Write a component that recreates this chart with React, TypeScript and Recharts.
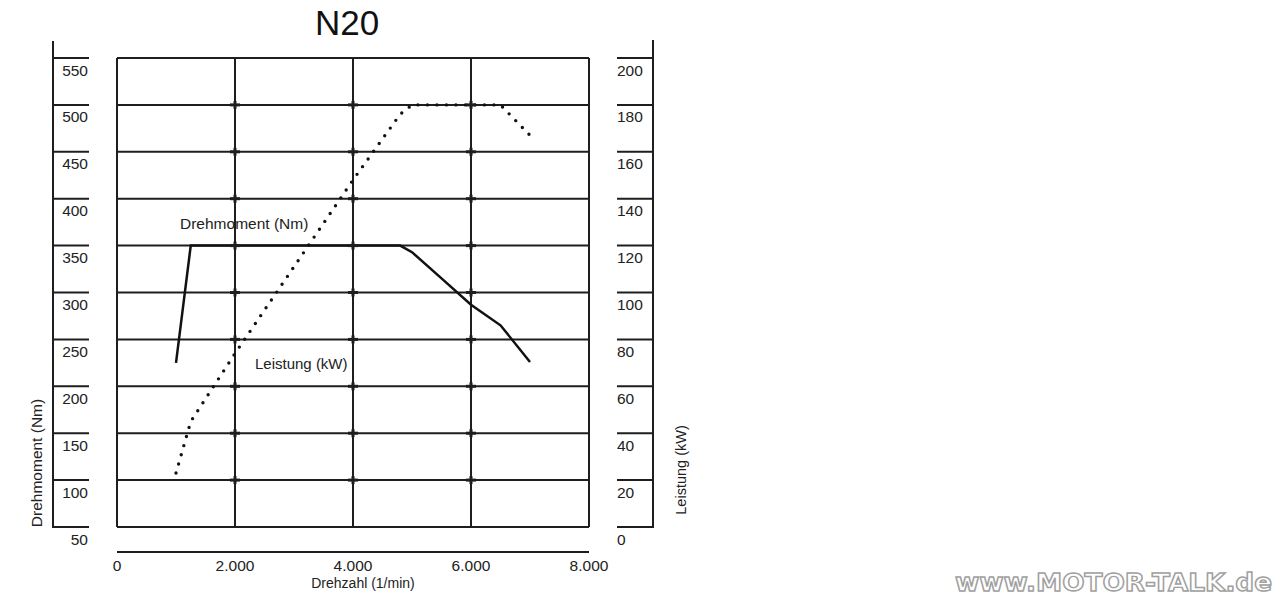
import React from 'react';
import { ComposedChart, Line, Scatter, XAxis, YAxis, CartesianGrid } from 'recharts';

const RPM_TICKS = [0, 2000, 4000, 6000, 8000];
const RPM_LABELS = ['0', '2.000', '4.000', '6.000', '8.000'];
const NM_TICKS = [50, 100, 150, 200, 250, 300, 350, 400, 450, 500, 550];
const KW_TICKS = [0, 20, 40, 60, 80, 100, 120, 140, 160, 180, 200];

// Drehmoment (Nm) over Drehzahl
const torqueRpm = [1000, 1250, 4800, 5000, 5500, 6000, 6500, 7000];
const torqueNm = [225, 350, 350, 343, 315, 287, 265, 226];

// Leistung (kW) over Drehzahl
const powerRpm = [1000, 1250, 2000, 3000, 4000, 4800, 5000, 6500, 7000];
const powerKw = [23, 45, 74, 111, 148, 176, 180, 180, 167];

// small "+" marks where the inner grid lines cross
const crossRpm = [2000, 4000, 6000];
const crossNm = [100, 150, 200, 250, 300, 350, 400, 450, 500];

const FONT = '"Liberation Sans", Arial, sans-serif';
const INK = '#1e1e1e';
const TEXT = '#222';

const torqueData = torqueRpm.map((rpm, i) => ({ rpm, nm: torqueNm[i] }));
const powerData = powerRpm.map((rpm, i) => ({ rpm, kw: powerKw[i] }));
const crossData = crossRpm.flatMap(rpm => crossNm.map(nm => ({ rpm, nm })));

const LeftTick = (props: any) => {
  const { y, payload } = props;
  return (
    <g>
      <line x1={53} x2={89} y1={y} y2={y} stroke={INK} strokeWidth={2} />
      <text x={88} y={y + 12} textAnchor="end" dominantBaseline="central" fontFamily={FONT} fontSize={15.5} fill={TEXT}>
        {payload.value}
      </text>
    </g>
  );
};

const RightTick = (props: any) => {
  const { y, payload } = props;
  return (
    <g>
      <line x1={617} x2={653} y1={y} y2={y} stroke={INK} strokeWidth={2} />
      <text x={617} y={y + 12} textAnchor="start" dominantBaseline="central" fontFamily={FONT} fontSize={15.5} fill={TEXT}>
        {payload.value}
      </text>
    </g>
  );
};

const BottomTick = (props: any) => {
  const { x, payload } = props;
  const label = RPM_LABELS[RPM_TICKS.indexOf(payload.value)];
  return (
    <text x={x} y={565} textAnchor="middle" dominantBaseline="central" fontFamily={FONT} fontSize={15.5} fill={TEXT}>
      {label}
    </text>
  );
};

const Cross = (props: any) => {
  const { cx, cy } = props;
  return (
    <g stroke={INK} strokeWidth={3}>
      <line x1={cx - 5} x2={cx + 5} y1={cy} y2={cy} />
      <line x1={cx} x2={cx} y1={cy - 4} y2={cy + 4} />
    </g>
  );
};

const App: React.FC = () => {
  return (
    <div style={{ position: 'absolute', left: 0, top: 0, width: 1280, height: 600, background: '#fff' }}>
      <ComposedChart
        width={1280}
        height={600}
        margin={{ top: 58, bottom: 43, left: 53, right: 627 }}
      >
        <CartesianGrid yAxisId="nm" stroke={INK} strokeWidth={2} />
        <XAxis
          dataKey="rpm"
          type="number"
          domain={[0, 8000]}
          ticks={RPM_TICKS}
          interval={0}
          height={30}
          axisLine={false}
          tickLine={false}
          tick={<BottomTick />}
        />
        <YAxis
          yAxisId="nm"
          domain={[50, 550]}
          ticks={NM_TICKS}
          interval={0}
          width={64}
          axisLine={false}
          tickLine={false}
          tick={<LeftTick />}
        />
        <YAxis
          yAxisId="kw"
          orientation="right"
          domain={[0, 200]}
          ticks={KW_TICKS}
          interval={0}
          width={64}
          axisLine={false}
          tickLine={false}
          tick={<RightTick />}
        />
        <Scatter yAxisId="nm" data={crossData} dataKey="nm" shape={<Cross />} isAnimationActive={false} />
        <Line
          yAxisId="nm"
          data={torqueData}
          dataKey="nm"
          type="linear"
          stroke="#111"
          strokeWidth={2.5}
          dot={false}
          activeDot={false}
          isAnimationActive={false}
        />
        <Line
          yAxisId="kw"
          data={powerData}
          dataKey="kw"
          type="linear"
          stroke="#111"
          strokeWidth={3.4}
          strokeDasharray="0 9.5"
          strokeLinecap="round"
          dot={false}
          activeDot={false}
          isAnimationActive={false}
        />
      </ComposedChart>

      <svg width={1280} height={600} style={{ position: 'absolute', left: 0, top: 0, pointerEvents: 'none' }}>
        {/* detached axis spines */}
        <line x1={53} x2={53} y1={41} y2={528} stroke={INK} strokeWidth={2} />
        <line x1={653} x2={653} y1={40} y2={528} stroke={INK} strokeWidth={2} />
        <line x1={117} x2={589} y1={552} y2={552} stroke={INK} strokeWidth={2} />

        <text x={347} y={35} textAnchor="middle" fontFamily={FONT} fontSize={35} fill="#111">N20</text>

        <text x={363} y={583} textAnchor="middle" dominantBaseline="central" fontFamily={FONT} fontSize={14} fill={TEXT}>
          Drehzahl (1/min)
        </text>
        <text transform="translate(36,463) rotate(-90)" textAnchor="middle" dominantBaseline="central" fontFamily={FONT} fontSize={15.5} fill={TEXT}>
          Drehmoment (Nm)
        </text>
        <text transform="translate(681,470) rotate(-90)" textAnchor="middle" dominantBaseline="central" fontFamily={FONT} fontSize={14.5} fill={TEXT}>
          Leistung (kW)
        </text>

        <text x={180} y={223} dominantBaseline="central" fontFamily={FONT} fontSize={15.5} fill={TEXT}>Drehmoment (Nm)</text>
        <text x={255} y={363} dominantBaseline="central" fontFamily={FONT} fontSize={15} fill={TEXT}>Leistung (kW)</text>

        <text
          x={955}
          y={591}
          textLength={317}
          lengthAdjust="spacingAndGlyphs"
          fontFamily='"DejaVu Sans", sans-serif'
          fontWeight="bold"
          fontSize={24}
          fill="#fff"
          stroke="#a0a0a0"
          strokeWidth={1.4}
        >
          www.MOTOR-TALK.de
        </text>
      </svg>
    </div>
  );
};

export default App;
